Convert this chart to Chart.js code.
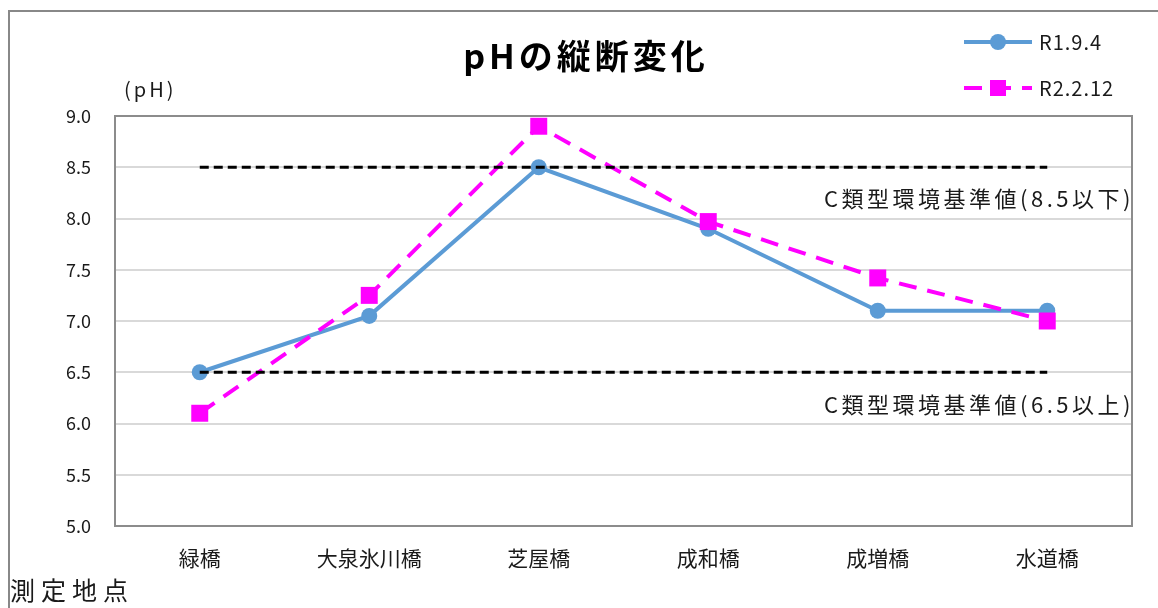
<!DOCTYPE html>
<html>
<head>
<meta charset="utf-8">
<script src="https://cdn.jsdelivr.net/npm/chart.js@4.4.1/dist/chart.umd.min.js"></script>
<style>
html,body{margin:0;padding:0;background:#fff;}
#wrap{position:relative;width:1158px;height:608px;}
</style>
</head>
<body>
<div id="wrap"><canvas id="c" width="1158" height="608"></canvas></div>
<script>
const categories = ['緑橋', '大泉氷川橋', '芝屋橋', '成和橋', '成増橋', '水道橋'];
const seriesR1 = [6.5, 7.05, 8.5, 7.9, 7.1, 7.1];
const seriesR2 = [6.1, 7.25, 8.9, 7.97, 7.42, 7.0];
const upperStandard = [8.5, 8.5, 8.5, 8.5, 8.5, 8.5];
const lowerStandard = [6.5, 6.5, 6.5, 6.5, 6.5, 6.5];
const seriesNames = ['R1.9.4', 'R2.2.12'];
const upperLabel = 'C類型環境基準値(8.5以下)';
const lowerLabel = 'C類型環境基準値(6.5以上)';
const titleText = 'pHの縦断変化';
const yUnit = '(pH)';
const xAxisTitle = '測定地点';
const yMin = 5.0, yMax = 9.0, yStep = 0.5;

const FONT = '"Noto Sans CJK JP", "Noto Sans", sans-serif';
const BLUE = '#5b9bd5';
const MAG = '#ff00ff';
const TXT = '#1a1a1a';

const decor = {
  id: 'decor',
  beforeDraw(chart) {
    const ctx = chart.ctx;
    ctx.save();
    ctx.fillStyle = '#fff';
    ctx.fillRect(0, 0, chart.width, chart.height);
    ctx.strokeStyle = '#888';
    ctx.lineWidth = 2;
    ctx.strokeRect(9, 11, 1170, 700);
    ctx.restore();
  },
  beforeDatasetsDraw(chart) {
    const ctx = chart.ctx, a = chart.chartArea;
    ctx.save();
    ctx.strokeStyle = '#8c8c8c';
    ctx.lineWidth = 2;
    ctx.strokeRect(a.left, a.top, a.right - a.left, a.bottom - a.top);
    ctx.restore();
  },
  afterDraw(chart) {
    const ctx = chart.ctx, a = chart.chartArea, ys = chart.scales.y;
    ctx.save();
    // title
    ctx.fillStyle = '#000';
    ctx.font = 'bold 34px ' + FONT;
    ctx.letterSpacing = '4px';
    ctx.textAlign = 'center';
    ctx.textBaseline = 'middle';
    ctx.fillText(titleText, 586, 56);
    // unit
    ctx.fillStyle = TXT;
    ctx.font = '20px ' + FONT;
    ctx.textAlign = 'left';
    ctx.letterSpacing = '3px';
    ctx.fillText(yUnit, 124, 89);
    // x axis title
    ctx.font = '25px ' + FONT;
    ctx.letterSpacing = '6px';
    ctx.fillText(xAxisTitle, 10, 590);
    // standard labels
    ctx.font = '22px ' + FONT;
    ctx.letterSpacing = '3.5px';
    ctx.textAlign = 'right';
    ctx.fillText(upperLabel, a.right + 2, ys.getPixelForValue(upperStandard[0]) + 31);
    ctx.fillText(lowerLabel, a.right + 2, ys.getPixelForValue(lowerStandard[0]) + 32);
    ctx.letterSpacing = '0px';
    // legend
    const items = [
      {y: 42, ds: chart.data.datasets[1]},
      {y: 88, ds: chart.data.datasets[0]}
    ];
    items.forEach((it) => {
      const ds = it.ds;
      ctx.strokeStyle = ds.borderColor;
      ctx.lineWidth = ds.borderWidth;
      ctx.setLineDash(ds.borderDash || []);
      ctx.beginPath();
      ctx.moveTo(964, it.y);
      ctx.lineTo(1032, it.y);
      ctx.stroke();
      ctx.setLineDash([]);
      ctx.fillStyle = ds.pointBackgroundColor;
      if (ds.pointStyle === 'rect') {
        ctx.fillRect(998 - 8, it.y - 8, 16, 16);
      } else {
        ctx.beginPath();
        ctx.arc(998, it.y, 8, 0, Math.PI * 2);
        ctx.fill();
      }
      ctx.fillStyle = TXT;
      ctx.font = '20px ' + FONT;
      ctx.letterSpacing = '1px';
      ctx.textAlign = 'left';
      ctx.textBaseline = 'middle';
      ctx.fillText(ds.label, 1039, it.y);
    });
    ctx.restore();
  }
};

new Chart(document.getElementById('c'), {
  type: 'line',
  data: {
    labels: categories,
    datasets: [
      {
        label: seriesNames[1], data: seriesR2, order: 1,
        borderColor: MAG, backgroundColor: MAG, borderWidth: 4, borderDash: [18, 11],
        pointStyle: 'rect', pointRadius: 12, pointBackgroundColor: MAG, pointBorderWidth: 0,
        tension: 0
      },
      {
        label: seriesNames[0], data: seriesR1, order: 2,
        borderColor: BLUE, backgroundColor: BLUE, borderWidth: 4,
        pointStyle: 'circle', pointRadius: 8, pointBackgroundColor: BLUE, pointBorderWidth: 0,
        tension: 0
      },
      {
        label: 'upper', data: upperStandard, order: 0,
        borderColor: '#000', borderWidth: 3, borderDash: [9, 5], pointRadius: 0
      },
      {
        label: 'lower', data: lowerStandard, order: 0,
        borderColor: '#000', borderWidth: 3, borderDash: [9, 5], pointRadius: 0
      }
    ]
  },
  options: {
    responsive: false,
    animation: false,
    layout: { padding: { left: 0, top: 116, right: 26, bottom: 0 } },
    plugins: { legend: { display: false }, title: { display: false }, tooltip: { enabled: false } },
    scales: {
      x: {
        offset: true,
        grid: { display: false, drawTicks: false },
        border: { display: false },
        ticks: { padding: 19, color: TXT, font: { family: FONT, size: 21 } },
        afterFit(s) { s.height = 82; }
      },
      y: {
        min: yMin, max: yMax,
        grid: { color: '#d9d9d9', lineWidth: 2, drawTicks: false },
        border: { display: false },
        ticks: {
          stepSize: yStep, padding: 24, color: TXT,
          font: { family: FONT, size: 18 },
          callback: v => Number(v).toFixed(1)
        },
        afterFit(s) { s.width = 115; }
      }
    }
  },
  plugins: [decor]
});
</script>
</body>
</html>
